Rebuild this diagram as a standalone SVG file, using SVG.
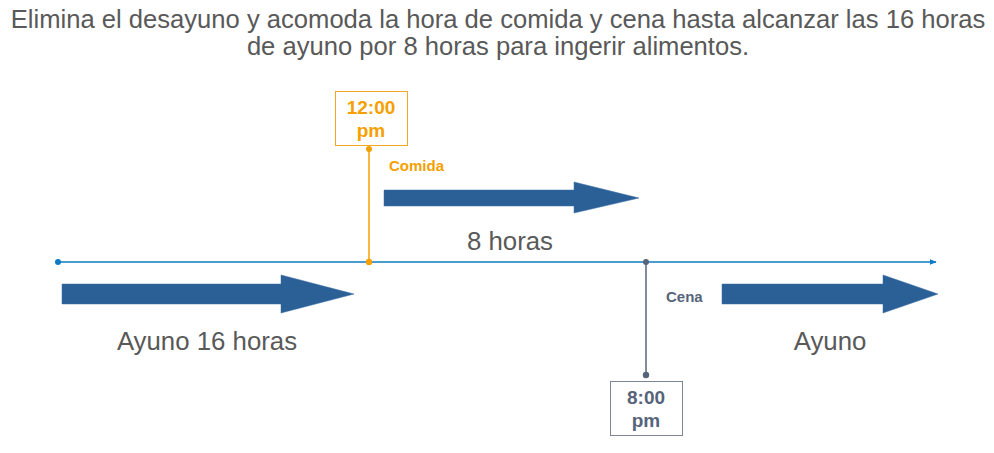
<svg xmlns="http://www.w3.org/2000/svg" width="994" height="453" viewBox="0 0 994 453">
<style>
text{font-family:"Liberation Sans",Arial,sans-serif}
.t{fill:#595959;font-size:25.6px;text-anchor:middle}
.big{fill:#595959;font-size:25.8px;text-anchor:middle}
.arr{fill:#2b6097;stroke:#3a6ea5;stroke-width:0.5}
.or{fill:#f5a000;font-weight:bold}
.gr{fill:#56647a;font-weight:bold}
</style>
<defs>
<marker id="ah" viewBox="0 0 10 10" refX="9" refY="5" markerWidth="7" markerHeight="7" markerUnits="userSpaceOnUse" orient="auto"><path d="M0,1 L10,5 L0,9 z" fill="#0e7ac4"/></marker>
</defs>
<g id="title">
<text class="t" x="498" y="28">Elimina el desayuno y acomoda la hora de comida y cena hasta alcanzar las 16 horas</text>
<text class="t" x="498" y="55">de ayuno por 8 horas para ingerir alimentos.</text>
</g>
<g id="connectors">
<line x1="58" y1="262" x2="936" y2="262" stroke="#0e7ac4" stroke-width="1.5" marker-end="url(#ah)"/>
<circle cx="58" cy="262" r="3" fill="#0e7ac4"/>
<line x1="369" y1="149" x2="369" y2="262" stroke="#f5a000" stroke-width="1.5"/>
<circle cx="369" cy="149" r="3" fill="#f5a000"/>
<circle cx="369" cy="262" r="3.2" fill="#f5a000"/>
<line x1="646" y1="262" x2="646" y2="375" stroke="#56647a" stroke-width="1.5"/>
<circle cx="646" cy="262" r="3" fill="#56647a"/>
<circle cx="646" cy="375" r="3.2" fill="#56647a"/>
</g>
<g id="arrow-ayuno16">
<path class="arr" d="M62,284 H281 V275 L354,294 L281,313 V304 H62 Z"/>
<text class="big" x="207" y="350">Ayuno 16 horas</text>
</g>
<g id="arrow-8horas">
<path class="arr" d="M384,190 H574 V182 L639,198 L574,213 V206 H384 Z"/>
<text class="big" x="510" y="250">8 horas</text>
</g>
<g id="arrow-ayuno">
<path class="arr" d="M722,284 H883 V275 L938,294 L883,313 V304 H722 Z"/>
<text class="big" x="830" y="350">Ayuno</text>
</g>
<g id="node-comida">
<rect x="335.5" y="91.5" width="72" height="54" fill="#fff" stroke="#f5a623" stroke-width="1"/>
<text class="or" x="371" y="114" font-size="19" text-anchor="middle">12:00</text>
<text class="or" x="371" y="137" font-size="19" text-anchor="middle">pm</text>
<text class="or" x="389" y="171" font-size="15">Comida</text>
</g>
<g id="node-cena">
<rect x="610.5" y="381.5" width="72" height="54" fill="#fff" stroke="#7a8597" stroke-width="1"/>
<text class="gr" x="646" y="404" font-size="19" text-anchor="middle">8:00</text>
<text class="gr" x="646" y="427" font-size="19" text-anchor="middle">pm</text>
<text class="gr" x="666" y="302" font-size="15">Cena</text>
</g>
</svg>
